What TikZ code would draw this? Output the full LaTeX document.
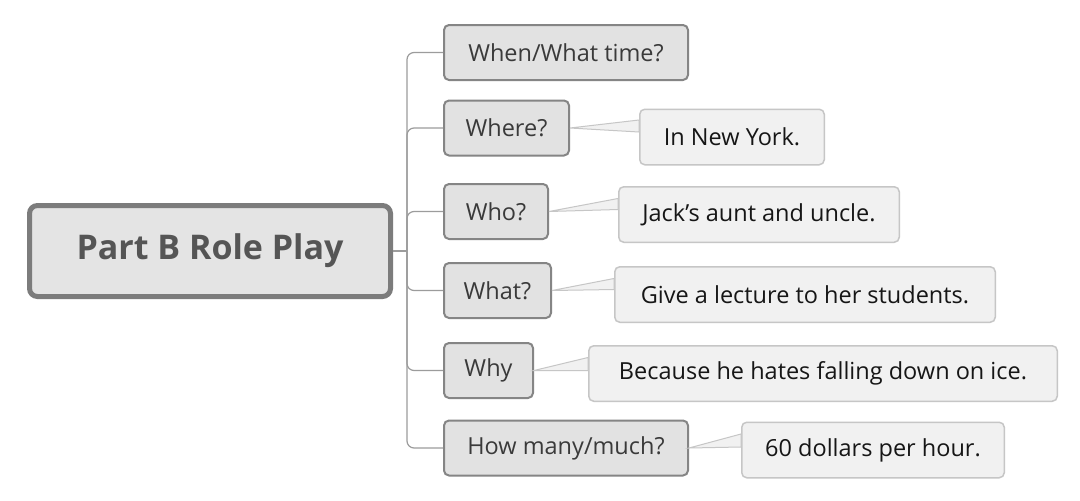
\documentclass[tikz,border=0pt]{standalone}
\usepackage{fontspec}
\setmainfont{Open Sans}
\usetikzlibrary{calc}

\definecolor{rootfill}{HTML}{E4E4E4}
\definecolor{rootline}{HTML}{7C7C7C}
\definecolor{roottext}{HTML}{555555}
\definecolor{qfill}{HTML}{E2E2E2}
\definecolor{qline}{HTML}{858585}
\definecolor{qtext}{HTML}{3A3A3A}
\definecolor{afill}{HTML}{F1F1F1}
\definecolor{aline}{HTML}{C6C6C6}
\definecolor{atext}{HTML}{161616}
\definecolor{branch}{HTML}{9C9C9C}

\begin{document}
\begin{tikzpicture}[x=1pt,y=-1pt,
	topic/.style={draw=rootline,line width=5pt,fill=rootfill,rounded corners=8pt,inner sep=0pt,minimum width=361pt,minimum height=91pt,text=roottext,font=\fontsize{34}{38}\selectfont\bfseries},
	question/.style={draw=qline,line width=2pt,fill=qfill,rounded corners=5pt,inner sep=0pt,minimum height=55pt,text=qtext,font=\fontsize{23.5}{26}\selectfont},
	answer/.style={draw=aline,line width=1.5pt,fill=afill,rounded corners=5pt,inner sep=0pt,minimum height=55.5pt,text=atext,font=\fontsize{23.5}{26}\selectfont},
	callout/.style={draw=aline,fill=afill,line width=1pt},
	twig/.style={draw=branch,line width=1.2pt,rounded corners=7pt}]
	\fill[white] (0,0) rectangle (1080,501);
	\useasboundingbox (0,0) rectangle (1080,501);

	\draw (210,251) node (root) [topic] {Part B Role Play};

	\draw (566,52.5) node (when) [question,minimum width=244pt] {When/What time?};
	\draw (506.5,128) node (where) [question,minimum width=125pt] {Where?};
	\draw (496,211.5) node (who) [question,minimum width=104pt] {Who?};
	\draw (497.5,290.5) node (what) [question,minimum width=107pt] {What?};
	\draw (488.5,370.5) node (why) [question,minimum width=89pt] {Why};
	\draw (566,448) node (how) [question,minimum width=244pt] {How many/much?};

	\draw (732,137) node (york) [answer,minimum width=184.5pt] {In New York.};
	\draw (759,214.5) node (aunt) [answer,minimum width=280.5pt] {Jack's aunt and uncle.};
	\draw (805,294.5) node (lecture) [answer,minimum width=380.5pt] {Give a lecture to her students.};
	\draw (823,373.5) node (ice) [answer,minimum width=468.5pt] {Because he hates falling down on ice.};
	\draw (873,450) node (dollars) [answer,minimum width=262.5pt] {60 dollars per hour.};

	\coordinate (hub) at (407,251);
	\draw[twig] (root.east) -- (hub);
	\foreach \q in {when,where,who,what,why,how}
		\draw[twig] (hub) |- (\q.west);

	\draw[callout] (where.east) -- ($(york.west)+(0,-17)$) -- ($(york.west)+(0,-5)$) -- cycle;
	\draw[callout] (who.east) -- ($(aunt.west)+(0,-16)$) -- ($(aunt.west)+(0,-5)$) -- cycle;
	\draw[callout] (what.east) -- ($(lecture.west)+(0,-16)$) -- ($(lecture.west)+(0,-5)$) -- cycle;
	\draw[callout] (why.east) -- ($(ice.west)+(0,-16)$) -- ($(ice.west)+(0,-3)$) -- cycle;
	\draw[callout] (how.east) -- ($(dollars.west)+(0,-16)$) -- ($(dollars.west)+(0,-3)$) -- cycle;
\end{tikzpicture}
\end{document}
